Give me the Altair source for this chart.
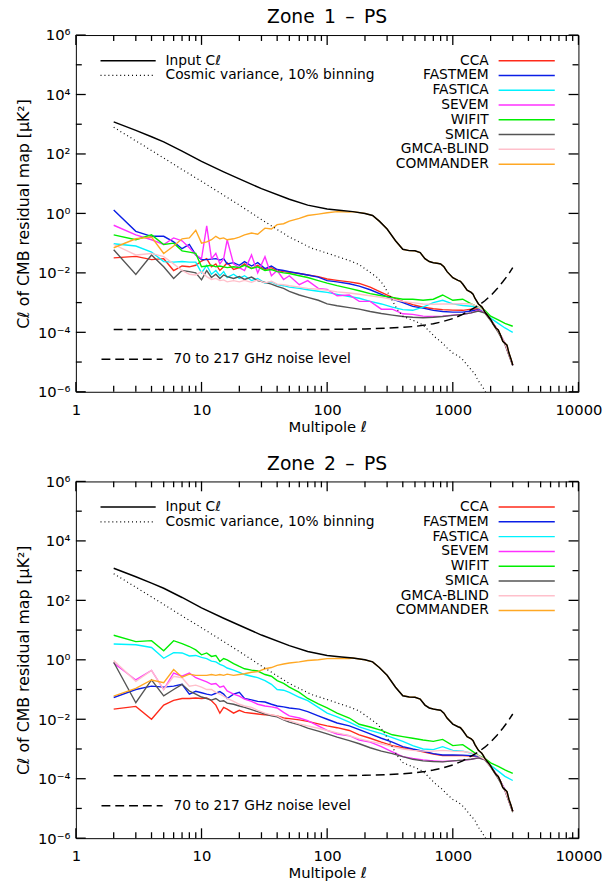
import altair as alt
import pandas as pd

FONT = "DejaVu Sans"
W, H = 510, 362

METHODS = ["CCA", "FASTMEM", "FASTICA", "SEVEM", "WIFIT", "SMICA", "GMCA-BLIND", "COMMANDER"]
COLORS = ["#ff2a1a", "#0a1ee6", "#00f2ff", "#ff30ff", "#00ee00", "#555555", "#ffc0cb", "#ffa824"]

# common multipole grid for the component-separation residuals
GRID = [2, 3, 4, 5, 6, 7, 8, 9, 10, 11, 12, 13, 14, 15, 16, 18, 20, 22, 25, 28, 32, 36, 40, 45, 50,
        60, 70, 85, 100, 120, 150, 180, 220, 270, 330, 400, 480, 580, 700, 830, 1000, 1200, 1400,
        1600, 1800, 2000, 2300, 2600, 3000]

# ---- Zone 1 ----
Z1_CCA = [0.032, 0.036, 0.028, 0.03, 0.012, 0.017, 0.016, 0.018, 0.025, 0.03, 0.016, 0.02, 0.012, 0.016, 0.022,
          0.013, 0.015, 0.02, 0.014, 0.018, 0.013, 0.015, 0.012, 0.011, 0.0105,
          0.0095, 0.0085, 0.0075, 0.0062, 0.0056, 0.005, 0.0044, 0.0033, 0.0022, 0.0015,
          0.0011, 0.00085, 0.0007, 0.00062, 0.00058, 0.00056, 0.00055, 0.0006, 0.00062, 0.00048,
          0.00027, 0.00011, 0.000043, 0.000008]
Z1_FASTMEM = [1.3, 0.25, 0.17, 0.17, 0.11, 0.065, 0.09, 0.04, 0.028, 0.028, 0.029, 0.03, 0.027, 0.03, 0.02,
              0.022, 0.018, 0.024, 0.017, 0.022, 0.014, 0.017, 0.013, 0.012, 0.011,
              0.0095, 0.0085, 0.0072, 0.0055, 0.005, 0.0043, 0.0036, 0.0027, 0.0019, 0.0013,
              0.001, 0.00075, 0.00065, 0.00055, 0.0005, 0.00048, 0.00048, 0.00052, 0.00058, 0.00048,
              0.00027, 0.00011, 0.000043, 0.000008]
Z1_FASTICA = [0.095, 0.08, 0.05, 0.024, 0.023, 0.024, 0.023, 0.023, 0.01, 0.018, 0.009, 0.012, 0.008, 0.011, 0.007,
              0.009, 0.0065, 0.008, 0.0055, 0.0065, 0.0045, 0.005, 0.004, 0.0037, 0.0033,
              0.003, 0.0027, 0.0024, 0.0022, 0.0019, 0.0016, 0.0014, 0.0011, 0.0009, 0.0007,
              0.00058, 0.00055, 0.0007, 0.001, 0.0012, 0.0009, 0.0008, 0.00075, 0.00068, 0.0005,
              0.0003, 0.0002, 0.00014, 0.0001]
Z1_SEVEM = [0.4, 0.19, 0.13, 0.09, 0.15, 0.12, 0.07, 0.04, 0.03, 0.38, 0.03, 0.045, 0.02, 0.03, 0.13,
            0.02, 0.015, 0.012, 0.04, 0.01, 0.035, 0.008, 0.012, 0.006, 0.008,
            0.004, 0.0055, 0.003, 0.0028, 0.0017, 0.0018, 0.0011, 0.0011, 0.0006, 0.0006,
            0.00042, 0.0004, 0.00035, 0.00034, 0.00035, 0.00038, 0.0004, 0.00045, 0.00055, 0.00046,
            0.00026, 0.00011, 0.000042, 0.000008]
Z1_WIFIT = [0.19, 0.13, 0.19, 0.09, 0.1, 0.055, 0.05, 0.045, 0.016, 0.017, 0.018, 0.016, 0.017, 0.016, 0.015,
            0.016, 0.015, 0.018, 0.014, 0.016, 0.012, 0.013, 0.011, 0.01, 0.0095,
            0.008, 0.007, 0.0055, 0.0045, 0.0037, 0.003, 0.0025, 0.002, 0.0017, 0.0015,
            0.0013, 0.0013, 0.0012, 0.0013, 0.0018, 0.0012, 0.0013, 0.0009, 0.0007, 0.00055,
            0.00035, 0.00026, 0.0002, 0.00016]
Z1_SMICA = [0.06, 0.0088, 0.04, 0.016, 0.0065, 0.012, 0.011, 0.01, 0.0058, 0.012, 0.007, 0.009, 0.0065, 0.0085, 0.0075,
            0.0065, 0.0075, 0.006, 0.0072, 0.0055, 0.0048, 0.0042, 0.0035, 0.003, 0.0024,
            0.0018, 0.0015, 0.0012, 0.0009, 0.00078, 0.00068, 0.0006, 0.0005, 0.00043, 0.00038,
            0.00034, 0.00032, 0.00031, 0.00032, 0.00034, 0.00037, 0.0004, 0.00045, 0.00052, 0.00044,
            0.00025, 0.0001, 0.00004, 0.0000075]
Z1_GMCA = [0.09, 0.04, 0.045, 0.035, 0.02, 0.012, 0.009, 0.0085, 0.011, 0.0075, 0.006, 0.0065, 0.0055, 0.0058, 0.005,
           0.0055, 0.005, 0.0056, 0.0048, 0.0058, 0.0046, 0.0052, 0.0042, 0.004, 0.0037,
           0.0033, 0.003, 0.0028, 0.0026, 0.0023, 0.0021, 0.0019, 0.0017, 0.0015, 0.0013,
           0.0011, 0.001, 0.0009, 0.00088, 0.0009, 0.0009, 0.00092, 0.0009, 0.0007, 0.0005,
           0.00027, 0.00011, 0.000043, 0.000008]
# COMMANDER up to l=150, above that it lies on the input spectrum
Z1_COMMANDER = [0.07, 0.14, 0.16, 0.045, 0.08, 0.14, 0.15, 0.27, 0.1, 0.11, 0.13, 0.17, 0.14, 0.15, 0.13,
                0.14, 0.16, 0.19, 0.22, 0.2, 0.32, 0.3, 0.42, 0.45, 0.55,
                0.68, 0.85, 0.95, 1.05, 1.15, 1.1]

# ---- Zone 2 ----
Z2_CCA = [0.022, 0.027, 0.01, 0.03, 0.043, 0.05, 0.05, 0.052, 0.05, 0.052, 0.042, 0.03, 0.016, 0.025, 0.022,
          0.016, 0.02, 0.017, 0.016, 0.015, 0.014, 0.0138, 0.013, 0.011, 0.0105,
          0.0095, 0.0085, 0.007, 0.006, 0.0052, 0.0042, 0.003, 0.0023, 0.0017, 0.0013,
          0.0011, 0.00095, 0.0008, 0.00068, 0.0006, 0.0006, 0.0006, 0.00058, 0.00058, 0.00046,
          0.00026, 0.00011, 0.000042, 0.000008]
Z2_FASTMEM = [0.054, 0.1, 0.13, 0.12, 0.13, 0.15, 0.07, 0.087, 0.078, 0.07, 0.065, 0.075, 0.085, 0.07, 0.05,
              0.07, 0.08, 0.05, 0.045, 0.04, 0.038, 0.032, 0.028, 0.026, 0.024,
              0.022, 0.018, 0.013, 0.01, 0.0075, 0.006, 0.0045, 0.0032, 0.0023, 0.0017,
              0.0012, 0.001, 0.00085, 0.0007, 0.00063, 0.00063, 0.00062, 0.0006, 0.00058, 0.00046,
              0.00027, 0.00011, 0.000043, 0.000008]
Z2_FASTICA = [3.4, 3.2, 2.6, 1.13, 1.75, 1.7, 1.35, 1.4, 1.2, 1.1, 0.9, 0.85, 0.7, 0.62, 0.53,
              0.45, 0.38, 0.32, 0.28, 0.25, 0.2, 0.15, 0.1, 0.095, 0.08,
              0.055, 0.042, 0.025, 0.016, 0.012, 0.008, 0.0055, 0.0042, 0.0033, 0.0024,
              0.0018, 0.0013, 0.001, 0.00095, 0.0012, 0.0009, 0.00085, 0.00072, 0.0006, 0.00045,
              0.00028, 0.00018, 0.00012, 0.000087]
Z2_SEVEM = [0.78, 0.21, 0.44, 0.1, 0.36, 0.28, 0.36, 0.25, 0.21, 0.18, 0.15, 0.16, 0.12, 0.13, 0.09,
            0.07, 0.06, 0.048, 0.04, 0.032, 0.028, 0.026, 0.024, 0.017, 0.013,
            0.011, 0.009, 0.006, 0.0042, 0.0032, 0.0028, 0.002, 0.0017, 0.0012, 0.0008,
            0.00055, 0.00048, 0.00043, 0.0004, 0.00038, 0.0004, 0.00042, 0.00045, 0.0005, 0.00044,
            0.00026, 0.00011, 0.000042, 0.000008]
Z2_WIFIT = [6.7, 4.1, 4.4, 2.0, 4.4, 3.5, 2.8, 2.15, 1.47, 1.7, 1.3, 1.4, 0.88, 1.1, 1.0,
            0.75, 0.6, 0.5, 0.45, 0.42, 0.32, 0.28, 0.2, 0.16, 0.12,
            0.08, 0.05, 0.033, 0.024, 0.016, 0.011, 0.0068, 0.0055, 0.0042, 0.003,
            0.0026, 0.0023, 0.002, 0.0018, 0.0021, 0.0013, 0.0014, 0.0009, 0.0006, 0.00048,
            0.00034, 0.00026, 0.0002, 0.00015]
Z2_SMICA = [0.83, 0.036, 0.21, 0.061, 0.1, 0.15, 0.089, 0.07, 0.056, 0.05, 0.044, 0.05, 0.04, 0.042, 0.035,
            0.032, 0.028, 0.025, 0.021, 0.018, 0.015, 0.013, 0.012, 0.0095, 0.008,
            0.0065, 0.005, 0.004, 0.0032, 0.0025, 0.0019, 0.0015, 0.0011, 0.00085, 0.0007,
            0.00055, 0.00045, 0.0004, 0.00038, 0.00037, 0.0004, 0.00042, 0.00045, 0.0005, 0.00043,
            0.00025, 0.0001, 0.00004, 0.0000075]
Z2_GMCA = [0.95, 0.19, 0.44, 0.1, 0.28, 0.25, 0.13, 0.14, 0.12, 0.1, 0.1, 0.08, 0.07, 0.06, 0.05,
           0.04, 0.032, 0.028, 0.025, 0.02, 0.016, 0.014, 0.013, 0.01, 0.009,
           0.007, 0.006, 0.005, 0.0042, 0.0035, 0.0028, 0.0022, 0.0018, 0.0015, 0.0012,
           0.001, 0.0009, 0.00085, 0.00085, 0.0009, 0.00085, 0.00082, 0.00075, 0.0006, 0.00045,
           0.00026, 0.00011, 0.000042, 0.000008]
Z2_COMMANDER = [0.06, 0.11, 0.21, 0.17, 0.47, 0.26, 0.33, 0.3, 0.3, 0.3, 0.32, 0.3, 0.32, 0.3, 0.33,
                0.3, 0.32, 0.34, 0.38, 0.4, 0.5, 0.55, 0.65, 0.72, 0.78,
                0.85, 0.95, 1.0, 1.1, 1.12, 1.1]

# ---- Input spectrum, cosmic variance, noise (same in both zones) ----
INPUT_ELL = [2, 3, 4, 5, 7, 10, 15, 20, 30, 50, 70, 100, 130, 160, 200, 230, 260, 300, 350, 400,
             450, 500, 550, 600, 650, 700, 750, 800, 850, 900, 1000, 1100, 1150, 1200, 1300, 1400, 1450,
             1500, 1600, 1700, 1750, 1800, 1900, 2000, 2100, 2200, 2300, 2400, 2500, 2600, 2700, 2800,
             2900, 3000]
INPUT_CL = [1200, 620, 380, 255, 125, 56, 25, 14.5, 6.8, 3.0, 1.9, 1.4, 1.25, 1.15, 1.0, 0.85, 0.55, 0.3,
            0.12, 0.062, 0.056, 0.055, 0.048, 0.03, 0.024, 0.022, 0.021, 0.02, 0.016, 0.011, 0.0069,
            0.0056, 0.0052, 0.0042, 0.0026, 0.0022, 0.0019, 0.0014, 0.0009, 0.00072, 0.0006, 0.00048,
            0.00036, 0.00027, 0.00019, 0.00014, 0.00012, 0.00008, 0.00005, 0.000043, 0.000037, 0.00002,
            0.000013, 0.000008]
CV_ELL = [2, 3, 5, 7, 10, 15, 20, 30, 50, 75, 100, 150, 180, 250, 280, 320, 360, 400, 450, 500, 575,
          650, 720, 820, 900, 1000, 1110, 1200, 1300, 1400, 1500, 1580, 1700, 1800, 1900]
CV_CL = [790, 276, 73, 30, 12, 4.1, 1.9, 0.62, 0.16, 0.068, 0.046, 0.026, 0.019, 0.007, 0.004, 0.0015,
         0.0006, 0.00035, 0.00028, 0.00024, 0.00018, 0.00011, 0.00007, 0.000045, 0.00003, 0.00002,
         0.000016, 0.000012, 0.000008, 0.0000055, 0.000004, 0.0000025, 0.0000016, 0.0000011, 0.0000007]
NOISE_ELL = [2, 10, 100, 200, 300, 400, 500, 600, 700, 800, 1000, 1200, 1400, 1600, 1800, 2000, 2250,
             2500, 2750, 3000]
NOISE_CL = [1.25e-4, 1.25e-4, 1.25e-4, 1.3e-4, 1.38e-4, 1.47e-4, 1.58e-4, 1.75e-4, 1.95e-4, 2.2e-4,
            2.9e-4, 4e-4, 5.8e-4, 8e-4, 1.15e-3, 1.7e-3, 2.9e-3, 5e-3, 8.5e-3, 1.5e-2]

LEGEND_INPUT = ["Input Cℓ", "Cosmic variance, 10% binning"]
LEGEND_NOISE = "70 to 217 GHz noise level"
TITLES = ["Zone\u20021\u2002–\u2002PS", "Zone\u20022\u2002–\u2002PS"]

X_MAJOR = [1, 10, 100, 1000, 10000]
X_MINOR = [m * 10 ** k for k in range(4) for m in range(2, 10)]
Y_MAJOR = [1e-6, 1e-4, 1e-2, 1, 1e2, 1e4, 1e6]
Y_MINOR = [1e-5, 1e-3, 1e-1, 10, 1e3, 1e5]

XS = alt.Scale(type="log", domain=[1, 10000], nice=False)
YS = alt.Scale(type="log", domain=[1e-6, 1e6], nice=False)

Y_LABEL_EXPR = ("datum.value > 1e5 ? '10⁶' : datum.value > 1e3 ? '10⁴' : datum.value > 10 ? '10²' : "
                "datum.value > 0.1 ? '10⁰' : datum.value > 1e-3 ? '10⁻²' : datum.value > 1e-5 ? '10⁻⁴' : '10⁻⁶'")

AX_X = alt.Axis(orient="bottom", values=X_MAJOR, format="d", ticks=False, tickSize=0, labelFlush=False,
                labelOverlap=False, labelPadding=11, labelFontSize=15, labelFont=FONT, labelColor="black",
                domain=False, title="Multipole ℓ", titleFontSize=15,
                titleFont=FONT, titleFontWeight="normal", titleColor="black", titlePadding=2, grid=False)
AX_Y = alt.Axis(orient="left", values=Y_MAJOR, labelExpr=Y_LABEL_EXPR, ticks=False, tickSize=0,
                labelFlush=False, labelOverlap=False, labelPadding=6, labelFontSize=15, labelFont=FONT,
                labelColor="black", domain=False,
                title="Cℓ of CMB residual map [μK²]", titleFontSize=16, titleFont=FONT,
                titleFontWeight="normal", titleColor="black", titlePadding=6, grid=False)


def X(field):
    return alt.X(field, scale=XS, axis=AX_X)


def Y(field):
    return alt.Y(field, scale=YS, axis=AX_Y)


def methods_frame(series):
    rows = []
    for name, vals in zip(METHODS, series):
        for l, v in zip(GRID, vals):
            rows.append({"ell": l, "value": v, "method": name})
    for l, v in zip(INPUT_ELL, INPUT_CL):
        if l > 150:
            rows.append({"ell": l, "value": v, "method": "COMMANDER"})
    return pd.DataFrame(rows)


def txt(s, x, y, align="left"):
    return alt.Chart(pd.DataFrame({"t": [s]})).mark_text(
        align=align, baseline="middle", font=FONT, fontSize=14, color="black"
    ).encode(x=alt.value(x), y=alt.value(y), text="t:N")


def seg(x1, x2, y, color, dash=None, width=1.5):
    kw = {"color": color, "strokeWidth": width}
    if dash:
        kw["strokeDash"] = dash
    return alt.Chart(pd.DataFrame({"t": [0]})).mark_rule(**kw).encode(
        x=alt.value(x1), x2=alt.value(x2), y=alt.value(y))


def x_ticks(values, size):
    d = pd.DataFrame({"ell": values})
    bottom = alt.Chart(d).mark_rule(color="black", strokeWidth=1.3).encode(
        x=X("ell:Q"), y=alt.value(H), y2=alt.value(H - size))
    top = alt.Chart(d).mark_rule(color="black", strokeWidth=1.3).encode(
        x=X("ell:Q"), y=alt.value(0), y2=alt.value(size))
    return [bottom, top]


def y_ticks(values, size):
    d = pd.DataFrame({"value": values})
    left = alt.Chart(d).mark_rule(color="black", strokeWidth=1.3).encode(
        y=Y("value:Q"), x=alt.value(0), x2=alt.value(size))
    right = alt.Chart(d).mark_rule(color="black", strokeWidth=1.3).encode(
        y=Y("value:Q"), x=alt.value(W), x2=alt.value(W - size))
    return [left, right]


def panel(title, series):
    df = methods_frame(series)
    inp = pd.DataFrame({"ell": INPUT_ELL, "value": INPUT_CL})
    cv = pd.DataFrame({"ell": CV_ELL, "value": CV_CL})
    nz = pd.DataFrame({"ell": NOISE_ELL, "value": NOISE_CL})

    methods = alt.Chart(df).mark_line(strokeWidth=1.4, clip=True).encode(
        x=X("ell:Q"), y=Y("value:Q"),
        color=alt.Color("method:N", scale=alt.Scale(domain=METHODS, range=COLORS), legend=None),
    )
    input_line = alt.Chart(inp).mark_line(color="black", strokeWidth=1.5, clip=True).encode(
        x=X("ell:Q"), y=Y("value:Q"))
    cv_line = alt.Chart(cv).mark_line(color="black", strokeWidth=1.2, strokeDash=[1, 3], clip=True).encode(
        x=X("ell:Q"), y=Y("value:Q"))
    nz_line = alt.Chart(nz).mark_line(color="black", strokeWidth=1.5, strokeDash=[9, 5], clip=True).encode(
        x=X("ell:Q"), y=Y("value:Q"))

    layers = [methods, input_line, cv_line, nz_line]
    for i, (name, col) in enumerate(zip(METHODS, COLORS)):
        y = 26 + 15 * i
        layers.append(txt(name, 419, y, "right"))
        layers.append(seg(429, 486, y, col))
    layers.append(seg(25, 81, 26, "black"))
    layers.append(txt(LEGEND_INPUT[0], 91, 26))
    layers.append(seg(25, 81, 41, "black", [1, 3], 1.2))
    layers.append(txt(LEGEND_INPUT[1], 91, 41))
    layers.append(seg(26, 88, 329, "black", [9, 5]))
    layers.append(txt(LEGEND_NOISE, 99, 329))
    # inward ticks on all four sides of the frame
    layers += x_ticks(X_MAJOR, 10) + x_ticks(X_MINOR, 6) + y_ticks(Y_MAJOR, 10) + y_ticks(Y_MINOR, 6)

    return alt.layer(*layers).properties(
        width=W, height=H,
        title=alt.TitleParams(title, fontSize=19, font=FONT, fontWeight="normal", color="black",
                              anchor="middle", offset=1),
    )


p1 = panel(TITLES[0], [Z1_CCA, Z1_FASTMEM, Z1_FASTICA, Z1_SEVEM, Z1_WIFIT, Z1_SMICA, Z1_GMCA, Z1_COMMANDER])
p2 = panel(TITLES[1], [Z2_CCA, Z2_FASTMEM, Z2_FASTICA, Z2_SEVEM, Z2_WIFIT, Z2_SMICA, Z2_GMCA, Z2_COMMANDER])

chart = alt.vconcat(p1, p2, spacing=19).properties(
    padding={"left": 15, "top": 1, "right": 5, "bottom": 0},
    background="white",
).configure_view(stroke="black", strokeWidth=1).configure_axis(grid=False)

chart.save("out.html", embed_options={"renderer": "svg", "actions": False})
